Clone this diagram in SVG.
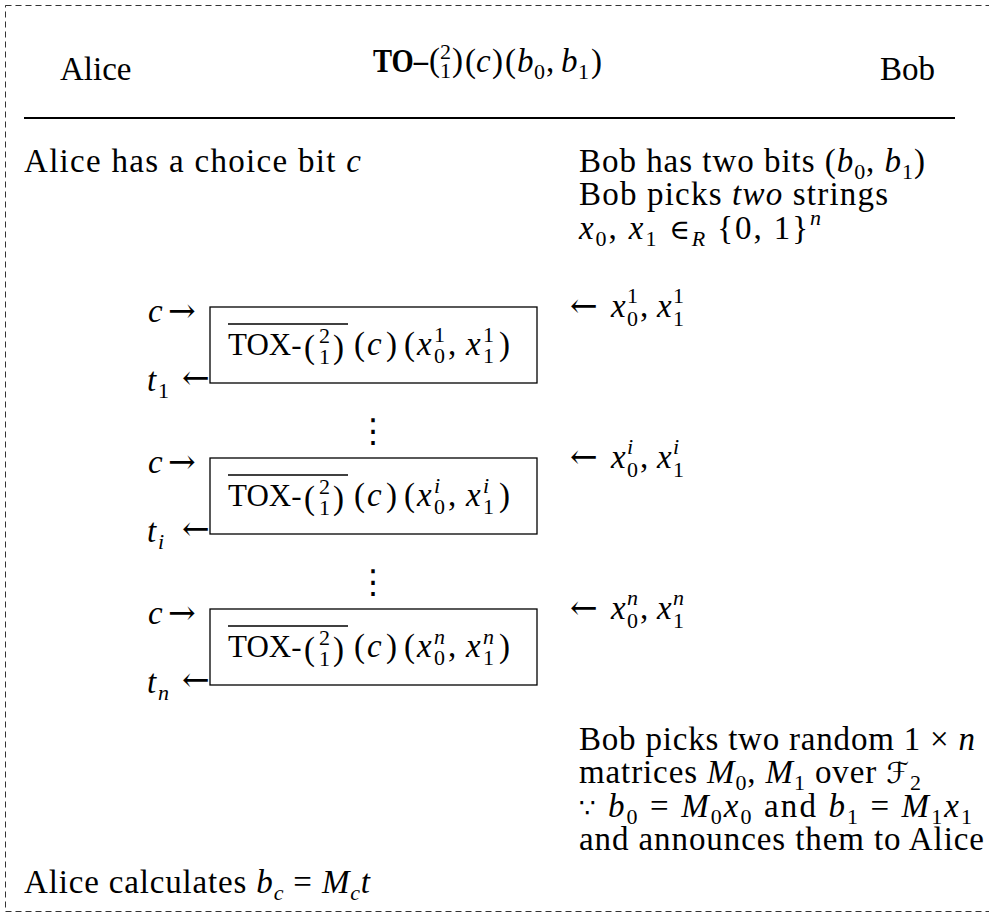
<svg xmlns="http://www.w3.org/2000/svg" width="989" height="916" viewBox="0 0 989 916">
<style>
text{font-family:"Liberation Serif","Times New Roman",serif;font-size:33px;fill:#000}
.i{font-style:italic}
.b{font-weight:bold}
.s{font-size:22px}
.bx{font-size:31px}
.mx{font-size:33px}
.sym{font-family:"DejaVu Serif","DejaVu Sans",serif}
.box{fill:#fff;stroke:#000;stroke-width:1.3}
.ol{stroke:#000;stroke-width:1.3}
</style>
<rect x="5.5" y="5.5" width="1000" height="906" fill="none" stroke="#333" stroke-width="1" stroke-dasharray="6 4"/>

<g id="header">
<text x="60" y="80">Alice</text>
<text x="373" y="72" class="b" textLength="55" lengthAdjust="spacingAndGlyphs">TO–</text>
<text x="429" y="71" font-size="34">(</text>
<text x="440" y="59" class="s">2</text>
<text x="440" y="78" class="s">1</text>
<text x="452" y="71" font-size="34">)</text>
<text x="465" y="72">(</text><text x="476" y="72" class="i">c</text><text x="492" y="72">)</text>
<text x="505" y="72">(</text><text x="517" y="72" class="i">b</text><text x="534" y="79" class="s">0</text><text x="546" y="72">,</text>
<text x="561" y="72" class="i">b</text><text x="578" y="79" class="s">1</text><text x="591" y="72">)</text>
<text x="880" y="80">Bob</text>
<line x1="24" y1="118" x2="955" y2="118" stroke="#000" stroke-width="2"/>
</g>

<g id="alice-start">
<text x="24" y="172" textLength="337" lengthAdjust="spacing">Alice has a choice bit <tspan class="i">c</tspan></text>
</g>

<g id="bob-start">
<text x="579" y="172" textLength="346" lengthAdjust="spacing">Bob has two bits (<tspan class="i">b</tspan><tspan class="s" dy="7">0</tspan><tspan dy="-7">, </tspan><tspan class="i">b</tspan><tspan class="s" dy="7">1</tspan><tspan dy="-7">)</tspan></text>
<text x="579" y="205" textLength="309" lengthAdjust="spacing">Bob picks <tspan class="i">two</tspan> strings</text>
<text x="579" y="239" textLength="242" lengthAdjust="spacing"><tspan class="i">x</tspan><tspan class="s" dy="7">0</tspan><tspan dy="-7">, </tspan><tspan class="i">x</tspan><tspan class="s" dy="7">1</tspan><tspan dy="-7" class="sym" font-size="28"> ∈</tspan><tspan class="s i" dy="7">R</tspan><tspan dy="-7"> {0, 1}</tspan><tspan class="s i" dy="-14">n</tspan></text>
</g>

<g id="tox-1">
<rect class="box" x="210" y="307" width="327" height="76"/>
<line class="ol" x1="228" y1="324" x2="348" y2="324"/>
<text x="228" y="355" class="bx">TOX-</text>
<text x="304" y="358" font-size="36">(</text><text x="319" y="343" class="s">2</text><text x="319" y="364" class="s">1</text><text x="333" y="358" font-size="36">)</text>
<text x="354" y="355" class="mx">(</text><text x="367" y="355" class="mx i">c</text><text x="386" y="355" class="mx">)</text>
<text x="404" y="355" class="mx">(</text><text x="417" y="355" class="mx i">x</text><text x="434" y="342" class="s">1</text><text x="434" y="363" class="s">0</text><text x="448" y="355" class="mx">,</text>
<text x="466" y="355" class="mx i">x</text><text x="483" y="342" class="s">1</text><text x="483" y="363" class="s">1</text><text x="499" y="355" class="mx">)</text>
</g>

<g id="tox-i" transform="translate(0,151)">
<rect class="box" x="210" y="307" width="327" height="76"/>
<line class="ol" x1="228" y1="324" x2="348" y2="324"/>
<text x="228" y="355" class="bx">TOX-</text>
<text x="304" y="358" font-size="36">(</text><text x="319" y="343" class="s">2</text><text x="319" y="364" class="s">1</text><text x="333" y="358" font-size="36">)</text>
<text x="354" y="355" class="mx">(</text><text x="367" y="355" class="mx i">c</text><text x="386" y="355" class="mx">)</text>
<text x="404" y="355" class="mx">(</text><text x="417" y="355" class="mx i">x</text><text x="434" y="342" class="s i">i</text><text x="434" y="363" class="s">0</text><text x="448" y="355" class="mx">,</text>
<text x="466" y="355" class="mx i">x</text><text x="483" y="342" class="s i">i</text><text x="483" y="363" class="s">1</text><text x="499" y="355" class="mx">)</text>
</g>

<g id="tox-n" transform="translate(0,302)">
<rect class="box" x="210" y="307" width="327" height="76"/>
<line class="ol" x1="228" y1="324" x2="348" y2="324"/>
<text x="228" y="355" class="bx">TOX-</text>
<text x="304" y="358" font-size="36">(</text><text x="319" y="343" class="s">2</text><text x="319" y="364" class="s">1</text><text x="333" y="358" font-size="36">)</text>
<text x="354" y="355" class="mx">(</text><text x="367" y="355" class="mx i">c</text><text x="386" y="355" class="mx">)</text>
<text x="404" y="355" class="mx">(</text><text x="417" y="355" class="mx i">x</text><text x="434" y="342" class="s i">n</text><text x="434" y="363" class="s">0</text><text x="448" y="355" class="mx">,</text>
<text x="466" y="355" class="mx i">x</text><text x="483" y="342" class="s i">n</text><text x="483" y="363" class="s">1</text><text x="499" y="355" class="mx">)</text>
</g>

<g id="vdots">
<text x="373" y="442" class="sym" font-size="34" text-anchor="middle">⋮</text>
<text x="373" y="593" class="sym" font-size="34" text-anchor="middle">⋮</text>
</g>

<g id="connectors">
<g id="io-1">
<text x="148" y="322" class="i">c</text><text x="168" y="322" class="sym" font-size="32">→</text>
<text x="147" y="391" class="i">t</text><text x="158" y="398" class="s">1</text><text x="182" y="389" class="sym" font-size="32">←</text>
<text x="570" y="317" class="sym" font-size="32">←</text>
<text x="611" y="317" class="i">x</text><text x="627" y="303" class="s">1</text><text x="627" y="326" class="s">0</text><text x="640" y="317">,</text>
<text x="657" y="317" class="i">x</text><text x="673" y="303" class="s">1</text><text x="673" y="326" class="s">1</text>
</g>
<g id="io-i" transform="translate(0,151)">
<text x="148" y="322" class="i">c</text><text x="168" y="322" class="sym" font-size="32">→</text>
<text x="147" y="391" class="i">t</text><text x="158" y="398" class="s i">i</text><text x="182" y="389" class="sym" font-size="32">←</text>
<text x="570" y="317" class="sym" font-size="32">←</text>
<text x="611" y="317" class="i">x</text><text x="627" y="303" class="s i">i</text><text x="627" y="326" class="s">0</text><text x="640" y="317">,</text>
<text x="657" y="317" class="i">x</text><text x="673" y="303" class="s i">i</text><text x="673" y="326" class="s">1</text>
</g>
<g id="io-n" transform="translate(0,302)">
<text x="148" y="322" class="i">c</text><text x="168" y="322" class="sym" font-size="32">→</text>
<text x="147" y="391" class="i">t</text><text x="158" y="398" class="s i">n</text><text x="182" y="389" class="sym" font-size="32">←</text>
<text x="570" y="317" class="sym" font-size="32">←</text>
<text x="611" y="317" class="i">x</text><text x="627" y="303" class="s i">n</text><text x="627" y="326" class="s">0</text><text x="640" y="317">,</text>
<text x="657" y="317" class="i">x</text><text x="673" y="303" class="s i">n</text><text x="673" y="326" class="s">1</text>
</g>
</g>

<g id="bob-end">
<text x="579" y="750" textLength="396" lengthAdjust="spacing">Bob picks two random 1 × <tspan class="i">n</tspan></text>
<text x="579" y="783" textLength="342" lengthAdjust="spacing">matrices <tspan class="i">M</tspan><tspan class="s" dy="7">0</tspan><tspan dy="-7">, </tspan><tspan class="i">M</tspan><tspan class="s" dy="7">1</tspan><tspan dy="-7"> over </tspan><tspan class="sym" font-size="29">ℱ</tspan><tspan class="s" dy="7">2</tspan></text>
<text x="579" y="817" textLength="393" lengthAdjust="spacing"><tspan class="sym" font-size="26">∵</tspan><tspan> </tspan><tspan class="i">b</tspan><tspan class="s" dy="7">0</tspan><tspan dy="-7"> = </tspan><tspan class="i">M</tspan><tspan class="s" dy="7">0</tspan><tspan class="i" dy="-7">x</tspan><tspan class="s" dy="7">0</tspan><tspan dy="-7"> and </tspan><tspan class="i">b</tspan><tspan class="s" dy="7">1</tspan><tspan dy="-7"> = </tspan><tspan class="i">M</tspan><tspan class="s" dy="7">1</tspan><tspan class="i" dy="-7">x</tspan><tspan class="s" dy="7">1</tspan></text>
<text x="579" y="850" textLength="405" lengthAdjust="spacing">and announces them to Alice</text>
</g>

<g id="alice-end">
<text x="24" y="893" textLength="346" lengthAdjust="spacing">Alice calculates <tspan class="i">b</tspan><tspan class="s i" dy="7">c</tspan><tspan dy="-7"> = </tspan><tspan class="i">M</tspan><tspan class="s i" dy="7">c</tspan><tspan class="i" dy="-7">t</tspan></text>
</g>
</svg>
